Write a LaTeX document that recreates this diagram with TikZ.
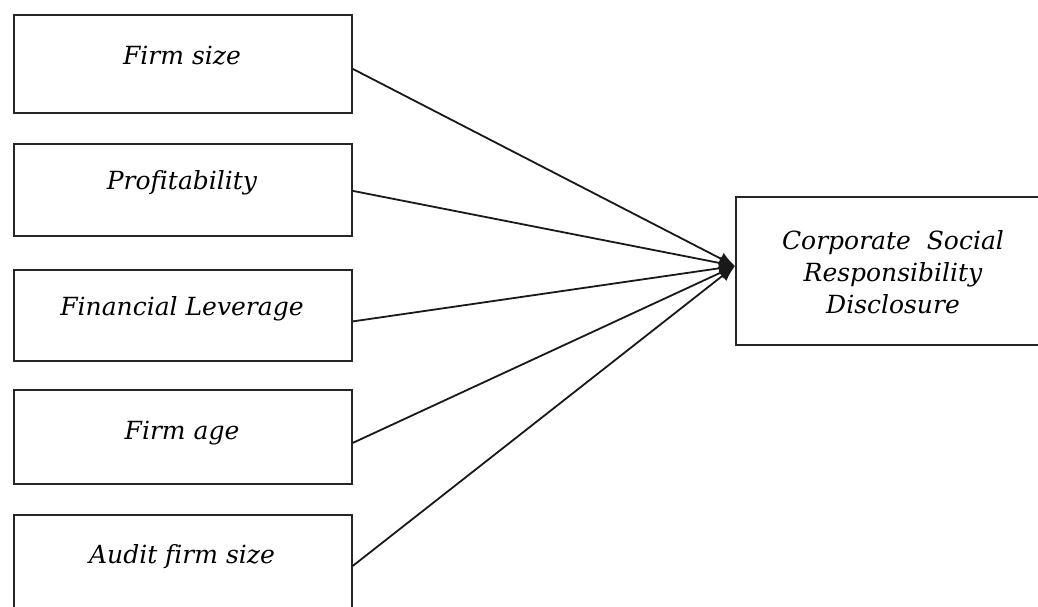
\documentclass[tikz,border=0pt]{standalone}
\usepackage{fontspec}
\setmainfont[Ligatures=NoCommon]{DejaVu Serif}
\usetikzlibrary{arrows.meta}
\begin{document}
\begin{tikzpicture}[x=1pt,y=-1pt,
  box/.style={draw=black!85, line width=1.8pt, minimum width=338pt, inner sep=0pt, anchor=north west},
  lbl/.style={font=\fontsize{25}{32}\selectfont\itshape, text=black},
  conn/.style={line width=1.8pt, draw=black!90, -{Latex[length=16pt,width=13pt]}}]
\useasboundingbox (0,0) rectangle (1038,607);
\clip (0,0) rectangle (1038,607);
\fill[white] (0,0) rectangle (1038,607);
\node[box, minimum height=98pt] (b1) at (13,14) {};
\node[lbl] (t1) at (182,56) {Firm size};
\node[box, minimum height=92pt] (b2) at (13,143) {};
\node[lbl] (t2) at (182,183) {Profitability};
\node[box, minimum height=91pt] (b3) at (13,269) {};
\node[lbl] (t3) at (182,309) {Financial Leverage};
\node[box, minimum height=94pt] (b4) at (13,389) {};
\node[lbl] (t4) at (182,433) {Firm age};
\node[box, minimum height=100pt] (b5) at (13,514) {};
\node[lbl] (t5) at (182,557) {Audit firm size};
\node[box, minimum width=320pt, minimum height=148pt] (c) at (735,196) {};
\node[lbl, align=center] (tc) at (893,272) {Corporate\ \ Social\\Responsibility\\Disclosure};
\coordinate (hub) at (735,266);
\draw[conn] ([yshift=-5pt]b1.east) -- (hub);
\draw[conn] ([yshift=-1pt]b2.east) -- (hub);
\draw[conn] ([yshift=-6pt]b3.east) -- (hub);
\draw[conn] ([yshift=-6pt]b4.east) -- (hub);
\draw[conn] ([yshift=-1pt]b5.east) -- (hub);
\end{tikzpicture}
\end{document}
